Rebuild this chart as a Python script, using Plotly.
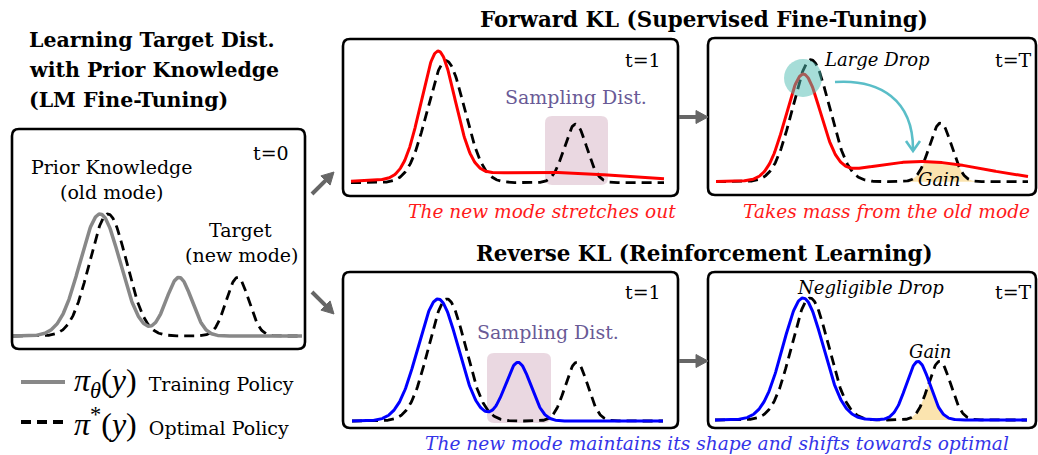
import numpy as np
import plotly.graph_objects as go

W, H = 1038, 455

# ---------------- data (abstract units: x in 1/10 px-scale units, y relative to optimal old-mode peak) -------------
opt_means = [9.5, 22.45]
opt_heights = [1.0, 0.48]
opt_widths = [1.85, 1.12]

prior_means = [8.7, 16.6]
prior_heights = [1.0, 0.48]
prior_widths = [2.0, 1.28]

fkl1_means = [8.7, 18.5]
fkl1_heights = [1.03, 0.086]
fkl1_widths = [1.7, 9.2]

fklT_means = [8.7, 20.5]
fklT_heights = [0.85, 0.165]
fklT_widths = [1.75, 6.5]

rkl1_means = [8.6, 16.6]
rkl1_heights = [1.0, 0.48]
rkl1_widths = [2.0, 1.28]

rklT_means = [8.8, 20.3]
rklT_heights = [1.0, 0.48]
rklT_widths = [2.0, 1.18]

panel_extent = [28.9, 31.3, 31.2, 31.1, 31.2]
gain_ranges = [None, None, [19.0, 26.5], None, [18.0, 27.0]]

panel_titles = ["t=0", "t=1", "t=T", "t=1", "t=T"]


def mixture(x, means, heights, widths):
    y = np.zeros_like(x)
    for m, h, s in zip(means, heights, widths):
        y += h * np.exp(-0.5 * ((x - m) / s) ** 2)
    return y


# ---------------- layout geometry (pixels) ----------------
boxes = [  # x0, x1, y0(top), y1(bottom), curve start x, baseline y
    (12, 305, 129, 349, 13, 336),
    (343, 678, 39, 196, 351, 182.7),
    (708, 1036, 38, 195, 716, 181.7),
    (343, 678, 272, 428, 352, 421),
    (708, 1036, 272, 428, 715, 420),
]
XU, YU = 10.0, 122.0


def X(p):
    return p / W


def Y(p):
    return 1 - p / H


policies = [
    (prior_means, prior_heights, prior_widths, "#888888", 3.5),
    (fkl1_means, fkl1_heights, fkl1_widths, "#ff0000", 3),
    (fklT_means, fklT_heights, fklT_widths, "#ff0000", 3),
    (rkl1_means, rkl1_heights, rkl1_widths, "#0000ff", 3),
    (rklT_means, rklT_heights, rklT_widths, "#0000ff", 3),
]

fig = go.Figure()
layout_axes = {}
for i, (bx0, bx1, by0, by1, cx0, base) in enumerate(boxes):
    n = "" if i == 0 else str(i + 1)
    xa, ya = "x" + n, "y" + n
    layout_axes["xaxis" + n] = dict(domain=[X(bx0), X(bx1)],
                                    range=[(bx0 - cx0) / XU, (bx1 - cx0) / XU],
                                    visible=False, fixedrange=True, anchor=ya)
    layout_axes["yaxis" + n] = dict(domain=[Y(by1), Y(by0)],
                                    range=[-(by1 - base) / YU, (base - by0) / YU],
                                    visible=False, fixedrange=True, anchor=xa)
    x = np.linspace(0, panel_extent[i], 500)
    y_opt = mixture(x, opt_means, opt_heights, opt_widths)
    pm, ph, pw, col, lw = policies[i]
    y_pol = mixture(x, pm, ph, pw)
    gr = gain_ranges[i]
    if gr is not None:
        mask = (x >= gr[0]) & (x <= gr[1])
        fig.add_trace(go.Scatter(x=x[mask], y=np.minimum(y_opt, y_pol)[mask], mode="lines",
                                 line=dict(width=0), fill="tozeroy",
                                 fillcolor="rgba(247,205,110,0.55)", xaxis=xa, yaxis=ya,
                                 showlegend=False, hoverinfo="skip"))
    fig.add_trace(go.Scatter(x=x, y=y_opt, mode="lines",
                             line=dict(color="black", width=2.8, dash="10px,6px"),
                             xaxis=xa, yaxis=ya, showlegend=False, hoverinfo="skip"))
    fig.add_trace(go.Scatter(x=x, y=y_pol, mode="lines",
                             line=dict(color=col, width=lw),
                             xaxis=xa, yaxis=ya, showlegend=False, hoverinfo="skip"))


def rrect(x0, y0, x1, y1, r):
    pts = [("M", [(x0 + r, y0)]), ("L", [(x1 - r, y0)]), ("Q", [(x1, y0), (x1, y0 + r)]),
           ("L", [(x1, y1 - r)]), ("Q", [(x1, y1), (x1 - r, y1)]), ("L", [(x0 + r, y1)]),
           ("Q", [(x0, y1), (x0, y1 - r)]), ("L", [(x0, y0 + r)]), ("Q", [(x0, y0), (x0 + r, y0)])]
    s = ""
    for cmd, ps in pts:
        s += cmd + " " + " ".join(f"{X(px):.5f},{Y(py):.5f}" for px, py in ps) + " "
    return s + "Z"


shapes = []
# sampling dist highlight boxes
for (sx0, sx1, sy0, sy1) in [(545, 608, 116, 185), (487, 551, 353, 423)]:
    shapes.append(dict(type="path", path=rrect(sx0, sy0, sx1, sy1, 7), xref="paper", yref="paper",
                       fillcolor="rgba(178,115,148,0.28)", line=dict(width=0), layer="below"))
# panel boxes
for (bx0, bx1, by0, by1, cx0, base) in boxes:
    shapes.append(dict(type="path", path=rrect(bx0, by0, bx1, by1, 7), xref="paper", yref="paper",
                       line=dict(color="black", width=2.6), layer="above"))
# teal circle
shapes.append(dict(type="circle", xref="paper", yref="paper", x0=X(784), x1=X(822), y0=Y(97), y1=Y(59),
                   fillcolor="rgba(77,187,177,0.5)", line=dict(width=0), layer="above"))
# teal curved arrow
shapes.append(dict(type="path", xref="paper", yref="paper",
                   path=f"M {X(835)},{Y(82)} C {X(880)},{Y(79)} {X(913)},{Y(100)} {X(913)},{Y(149)}",
                   line=dict(color="rgb(90,190,200)", width=2.6)))
shapes.append(dict(type="path", xref="paper", yref="paper",
                   path=f"M {X(906)},{Y(141)} L {X(913)},{Y(151)} L {X(920)},{Y(141)}",
                   line=dict(color="rgb(90,190,200)", width=2.6)))
# legend lines
shapes.append(dict(type="line", xref="paper", yref="paper", x0=X(21), x1=X(65), y0=Y(382), y1=Y(382),
                   line=dict(color="#888888", width=4)))
shapes.append(dict(type="line", xref="paper", yref="paper", x0=X(21), x1=X(65), y0=Y(422), y1=Y(422),
                   line=dict(color="black", width=4, dash="10px,6px")))

# gray flow arrows (tail -> head) drawn as line + filled triangle
GRAY = "#666666"
for tx, ty, hx, hy in [(312, 194, 334, 172), (312, 292, 334, 314), (679, 117, 708, 117), (679, 361, 708, 361)]:
    d = np.array([hx - tx, hy - ty], float)
    L = np.hypot(*d)
    u = d / L
    nrm = np.array([-u[1], u[0]])
    hl, hw = 12.0, 6.5
    bx, by = hx - u[0] * hl, hy - u[1] * hl
    shapes.append(dict(type="line", xref="paper", yref="paper", x0=X(tx), y0=Y(ty),
                       x1=X(bx + u[0] * 2), y1=Y(by + u[1] * 2), line=dict(color=GRAY, width=4)))
    p1 = (bx + nrm[0] * hw, by + nrm[1] * hw)
    p2 = (bx - nrm[0] * hw, by - nrm[1] * hw)
    shapes.append(dict(type="path", xref="paper", yref="paper",
                       path=f"M {X(hx)},{Y(hy)} L {X(p1[0])},{Y(p1[1])} L {X(p2[0])},{Y(p2[1])} Z",
                       fillcolor=GRAY, line=dict(color=GRAY, width=1)))

SERIF = "DejaVu Serif"
ann = []


def txt(t, x, y, size, color="black", xanchor="center"):
    ann.append(dict(text=t, x=X(x), y=Y(y), xref="paper", yref="paper", showarrow=False,
                    xanchor=xanchor, yanchor="middle", font=dict(family=SERIF, size=size, color=color)))


txt("<b>Learning Target Dist.</b>", 27, 40, 20.5, xanchor="left")
txt("<b>with Prior Knowledge</b>", 27, 70, 20.5, xanchor="left")
txt("<b>(LM Fine-Tuning)</b>", 27, 100, 20.5, xanchor="left")
txt("<b>Forward KL (Supervised Fine-Tuning)</b>", 704, 20, 21.4)
txt("<b>Reverse KL (Reinforcement Learning)</b>", 704, 253, 21.4)

for t, (px, py) in zip(panel_titles, [(271, 153), (643, 60), (1013, 60), (643, 292), (1013, 292)]):
    txt(t, px, py, 19)

txt("Prior Knowledge", 112, 167, 19)
txt("(old mode)", 111, 192, 19)
txt("Target", 240, 230, 19)
txt("(new mode)", 241, 255, 19)

PURPLE = "rgb(105,90,150)"
txt("Sampling Dist.", 576, 97, 19, PURPLE)
txt("Sampling Dist.", 548, 332, 19, PURPLE)

txt("<i>Large Drop</i>", 877, 60, 18)
txt("<i>Gain</i>", 939, 180, 18)
txt("<i>Negligible Drop</i>", 870, 287, 18)
txt("<i>Gain</i>", 930, 351, 18)

txt("<i>The new mode stretches out</i>", 678, 211, 18.6, "#ff1a1a", xanchor="right")
txt("<i>Takes mass from the old mode</i>", 886, 211, 18.6, "#ff1a1a")
txt("<i>The new mode maintains its shape and shifts towards optimal</i>", 717, 443, 18.6, "#3434e8")

MATH = "font-family:Liberation Serif;font-size:32px"
txt(f"<span style='{MATH}'><i>π</i><sub><i>θ</i></sub>(<i>y</i>)</span>  Training Policy", 72, 382, 19,
    xanchor="left")
txt(f"<span style='{MATH}'><i>π</i><sup>*</sup>(<i>y</i>)</span>  Optimal Policy", 72, 422, 19,
    xanchor="left")

fig.update_layout(width=W, height=H, margin=dict(l=0, r=0, t=0, b=0),
                  paper_bgcolor="white", plot_bgcolor="rgba(0,0,0,0)",
                  shapes=shapes, annotations=ann, showlegend=False, **layout_axes)

fig.write_html("out.html", config={"displayModeBar": False, "staticPlot": True},
               post_script="document.body.style.margin='0px';document.body.style.overflow='hidden';")
